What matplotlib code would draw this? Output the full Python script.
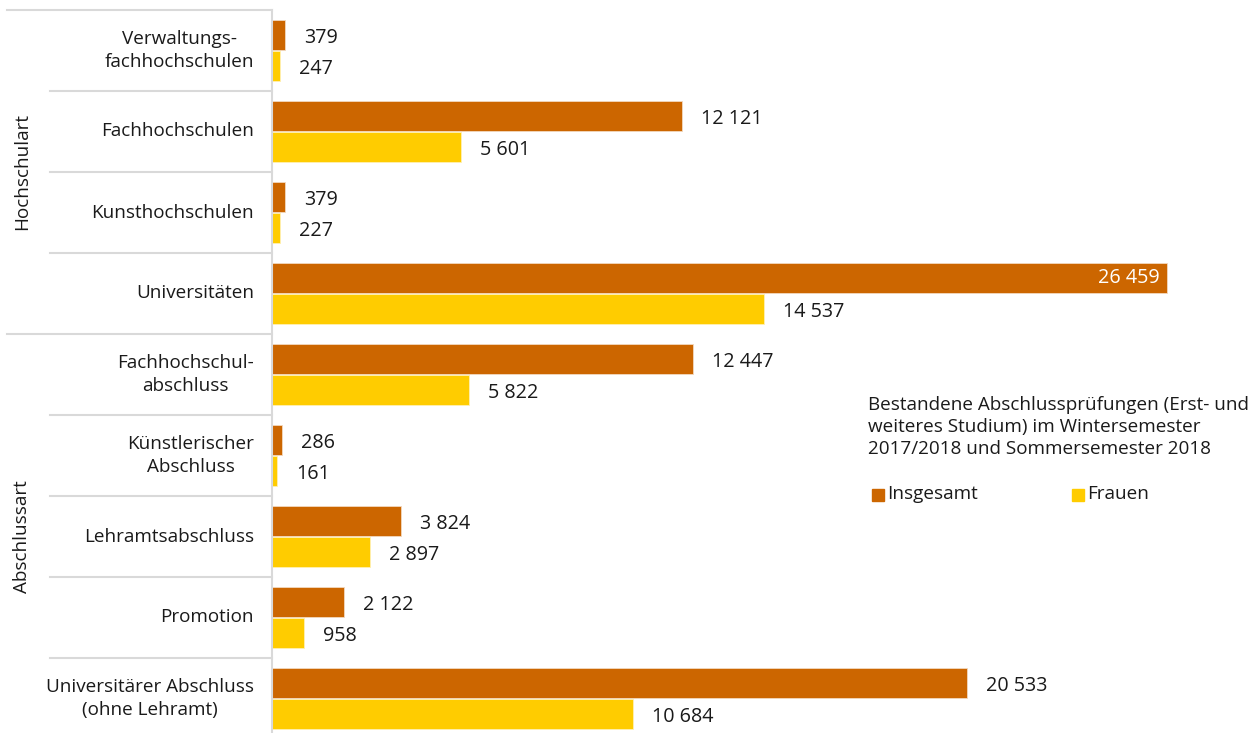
import matplotlib
matplotlib.use("Agg")
import matplotlib.pyplot as plt
from matplotlib.patches import Rectangle

plt.rcParams['font.family'] = ['Open Sans', 'DejaVu Sans']

# data
categories = ["Verwaltungs-\nfachhochschulen", "Fachhochschulen", "Kunsthochschulen",
              "Universitäten", "Fachhochschul-\nabschluss", "Künstlerischer\nAbschluss",
              "Lehramtsabschluss", "Promotion", "Universitärer Abschluss\n(ohne Lehramt)"]
insgesamt = [379, 12121, 379, 26459, 12447, 286, 3824, 2122, 20533]
frauen = [247, 5601, 227, 14537, 5822, 161, 2897, 958, 10684]
groups = ["Hochschulart", "Abschlussart"]
group_sizes = [4, 5]
legend_title = "Bestandene Abschlussprüfungen (Erst- und\nweiteres Studium) im Wintersemester\n2017/2018 und Sommersemester 2018"
series_names = ["Insgesamt", "Frauen"]

c_ins = "#cc6600"
c_fra = "#ffcc00"
grid_c = "#d9d9d9"
txt_c = "#1a1a1a"
fs = 13.6
fs_val = 14.2

W, H = 1259, 733
fig = plt.figure(figsize=(W / 100, H / 100), dpi=100)

# axes in pixels: left 272, top 10, categories 81 px tall
left_px, top_px, cat_px = 272, 10, 81
ax_w = W - left_px
ax_h = H - top_px
ax = fig.add_axes([left_px / W, 0, ax_w / W, ax_h / H])
px_per_unit = 895 / 26459
ax.set_xlim(0, ax_w / px_per_unit)
ax.set_ylim(-0.5 + ax_h / cat_px, -0.5)
ax.axis("off")


def ax_x(px):
    return (px - left_px) / ax_w


def fig_y(py):
    return 1 - py / H


ypos = list(range(len(categories)))
bh = 0.375
ax.barh([y - bh / 2 - 0.006 for y in ypos], insgesamt, height=bh, color=c_ins,
        edgecolor="#f3d9bf", linewidth=0.6)
ax.barh([y + bh / 2 + 0.006 for y in ypos], frauen, height=bh, color=c_fra,
        edgecolor="#fff0b3", linewidth=0.6)


def fmt(v):
    return f"{v:,}".replace(",", " ")


pad = 19 / px_per_unit
for y, a, f in zip(ypos, insgesamt, frauen):
    if a > 25000:
        ax.text(a - 7 / px_per_unit, y - bh / 2, fmt(a), ha="right", va="center",
                fontsize=fs_val, color="white")
    else:
        ax.text(a + pad, y - bh / 2 + 0.03, fmt(a), ha="left", va="center",
                fontsize=fs_val, color=txt_c)
    ax.text(f + pad, y + bh / 2 + 0.04, fmt(f), ha="left", va="center",
            fontsize=fs_val, color=txt_c)

# category labels
yt = ax.get_yaxis_transform()
for y, lab in zip(ypos, categories):
    ax.text(ax_x(254), y, lab, transform=yt, ha="right", va="center",
            fontsize=fs, color=txt_c, multialignment="center", linespacing=1.3,
            clip_on=False)

# axis line and separators
ax.plot([0, 0], [-0.5, 9], transform=yt, color=grid_c, lw=1.5, clip_on=False)
start = 0
for g, n in zip(groups, group_sizes):
    ax.plot([ax_x(7), 0], [start - 0.5] * 2, transform=yt, color=grid_c, lw=1.5,
            clip_on=False)
    for k in range(1, n):
        ax.plot([ax_x(50), 0], [start + k - 0.5] * 2, transform=yt, color=grid_c,
                lw=1.5, clip_on=False)
    mid = start + (n - 1) / 2
    ax.text(ax_x(22), mid, g, transform=yt, ha="center", va="center", rotation=90,
            fontsize=fs, color=txt_c, clip_on=False)
    start += n

# legend
fig.text(868 / W, fig_y(396), legend_title, ha="left", va="top", fontsize=fs,
         color=txt_c, linespacing=1.28)
for x0, col, name in [(872, c_ins, series_names[0]), (1072, c_fra, series_names[1])]:
    fig.patches.append(Rectangle((x0 / W, fig_y(501)), 12 / W, 12 / H,
                                 transform=fig.transFigure, color=col))
    fig.text((x0 + 15) / W, fig_y(494), name, ha="left", va="center", fontsize=fs,
             color=txt_c)

fig.savefig("out.png", dpi=100)
